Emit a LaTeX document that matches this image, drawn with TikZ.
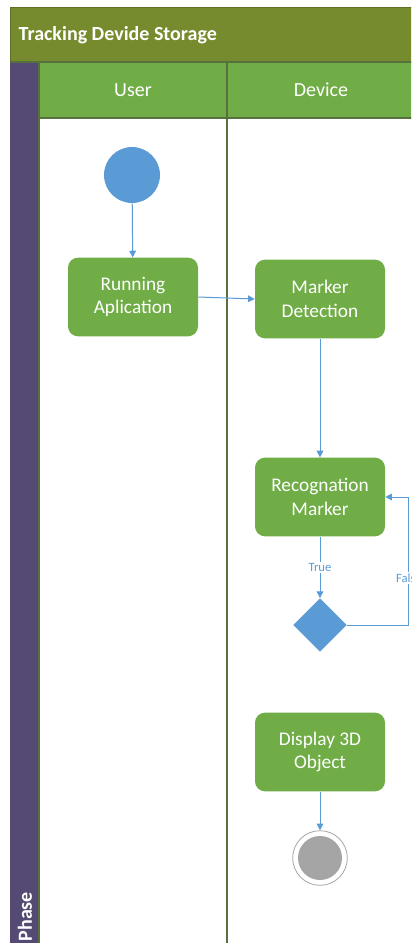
\documentclass[tikz,border=0pt]{standalone}
\usepackage{fontspec}
\setmainfont{Carlito}
\usetikzlibrary{arrows.meta,shapes.geometric}
\definecolor{titleolive}{HTML}{768B2E}
\definecolor{titleedge}{HTML}{5E7025}
\definecolor{phasepurple}{HTML}{554A73}
\definecolor{lanegreen}{HTML}{70AD47}
\definecolor{laneline}{HTML}{56703E}
\definecolor{flowblue}{HTML}{5B9BD5}
\definecolor{endgray}{HTML}{A5A5A5}
\tikzset{
    act/.style={
        rectangle, rounded corners=7.5pt, fill=lanegreen,
        minimum width=97.5pt, minimum height=59pt,
        text=white, align=center, font=\fontsize{14.5}{17.5}\selectfont
    },
    flow/.style={
        draw=flowblue, line width=0.75pt,
        -{Triangle[length=5pt,width=5pt]}
    },
    guard/.style={
        text=flowblue, fill=white, inner sep=1pt,
        font=\fontsize{9.5}{11}\selectfont
    },
    lanehead/.style={
        text=white, font=\fontsize{15}{18}\selectfont
    }
}

\begin{document}
\begin{tikzpicture}[x=0.75pt,y=-0.75pt]

\useasboundingbox (0,0) rectangle (411,943);
\clip (0,0) rectangle (411,943);

% pool title and lane headers
\fill[white] (0,0) rectangle (411,943);
\draw[titleedge, fill=titleolive] (10,7) rectangle (430,62);
\node[anchor=west, text=white, font=\bfseries\fontsize{15}{18}\selectfont] (pool) at (14,35) {Tracking Devide Storage};
\fill[lanegreen] (39,62) rectangle (430,118);
\fill[phasepurple] (10,62) rectangle (39,950);
\node[rotate=90, anchor=west, text=white, font=\bfseries\fontsize{15}{18}\selectfont] (phase) at (25,946) {Phase};

% lane borders
\draw[laneline, line width=1pt] (10,62) -- (430,62);
\draw[laneline, line width=1pt] (39,118) -- (430,118);
\draw[laneline, line width=1pt] (39,62) -- (39,950);
\draw[laneline, line width=1pt] (227,62) -- (227,950);
\node[lanehead] (user) at (133,90) {User};
\node[lanehead] (device) at (321,90) {Device};

% activities
\node[circle, fill=flowblue, minimum size=42pt, inner sep=0pt] (start) at (132,175) {};
\node[act] (run) at (133,297) {Running\\Aplication};
\node[act] (mark) at (320,299) {Marker\\Detection};
\node[act] (recog) at (320,497) {Recognation\\Marker};
\node[diamond, fill=flowblue, minimum size=40pt, inner sep=0pt] (dec) at (320,625) {};
\node[act] (disp) at (320,752) {Display 3D\\Object};
\node[circle, draw=endgray, line width=0.6pt, minimum size=41pt, inner sep=0pt] (finish) at (320,858) {};
\node[circle, fill=endgray, minimum size=33pt, inner sep=0pt] (finishdot) at (finish) {};

% control flow
\draw[flow] (start) -- (run);
\draw[flow] (run.east) -- (mark.west);
\draw[flow] (mark) -- (recog);
\draw[flow] (recog) -- node[guard] {True} (dec);
\draw[flow] (dec.east) -- ++(62,0) |- (recog.east);
\node[guard] (false) at (409,578) {False};
\draw[flow] (disp) -- (finish);

\end{tikzpicture}
\end{document}
